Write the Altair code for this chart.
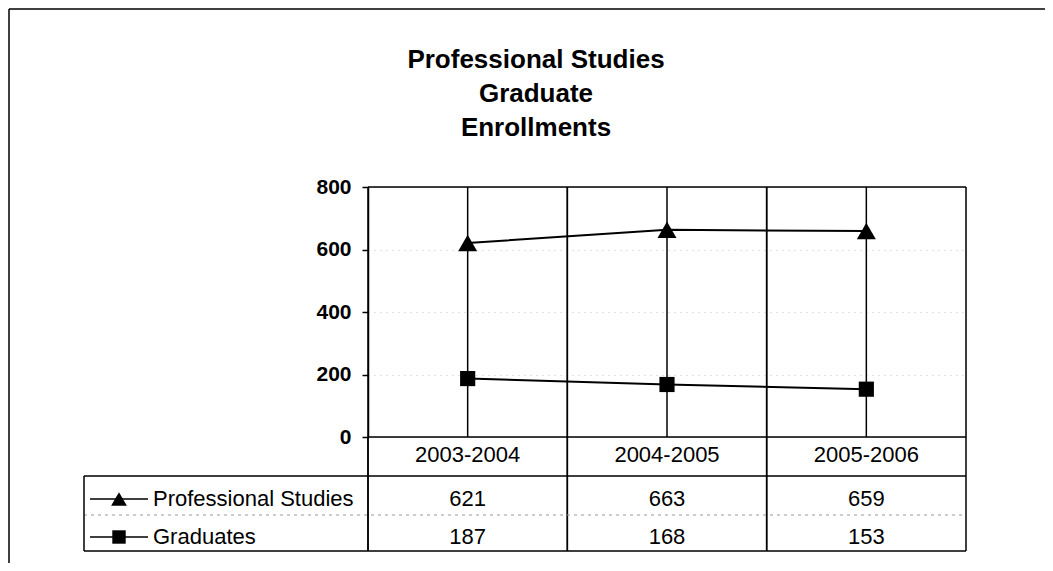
import altair as alt
import pandas as pd

# ---- data ----
categories = ["2003-2004", "2004-2005", "2005-2006"]
series_names = ["Professional Studies", "Graduates"]
professional_studies = [621, 663, 659]
graduates = [187, 168, 153]
title_lines = ["Professional Studies", "Graduate", "Enrollments"]
y_ticks = [0, 200, 400, 600, 800]

rows = []
for name, vals in zip(series_names, [professional_studies, graduates]):
    for c, v in zip(categories, vals):
        rows.append({"year": c, "series": name, "value": v})
df = pd.DataFrame(rows)
cat_df = pd.DataFrame({"year": categories})
title_df = pd.DataFrame({"t": ["\n".join(title_lines)]})
one = pd.DataFrame({"k": [0]})

# ---- layout (pixels relative to plot origin) ----
W, H = 598, 250
FONT = "Liberation Sans"
FS = 22
TABLE_LEFT, TABLE_TOP, ROW_SEP, TABLE_BOTTOM = -284, 289, 328, 364
HEADER_Y = 268
ROW_Y = {"Professional Studies": 312, "Graduates": 350}
MARK_SIZE = {"Professional Studies": 360, "Graduates": 230}
KEY_SIZE = {"Professional Studies": 250, "Graduates": 180}
SHAPE = {"Professional Studies": "triangle-up", "Graduates": "square"}

x_scale = alt.Scale(domain=categories, paddingInner=0, paddingOuter=0)
x_enc = alt.X("year:N", sort=categories, scale=x_scale, axis=None)
y_enc = alt.Y(
    "value:Q",
    scale=alt.Scale(domain=[0, 800], nice=False),
    axis=alt.Axis(
        values=y_ticks, title=None, grid=True, gridColor="#c4c4c4",
        gridDash=[1, 5], gridWidth=1, domainColor="black", domainWidth=1.5,
        tickColor="black", tickSize=6, tickWidth=1.5, labelFont=FONT,
        labelFontSize=21, labelFontWeight="bold", labelColor="black",
        labelPadding=11,
    ),
)

layers = []

# vertical lines through each category centre
layers.append(
    alt.Chart(cat_df).mark_rule(color="black", strokeWidth=1.5).encode(
        x=alt.X("year:N", sort=categories, scale=x_scale, axis=None),
        y=alt.value(0), y2=alt.value(H),
    )
)
# category boundary lines through plot + table
for bp in (0, 1):
    layers.append(
        alt.Chart(cat_df).mark_rule(color="black", strokeWidth=1.5).encode(
            x=alt.X("year:N", sort=categories, scale=x_scale, axis=None, bandPosition=bp),
            y=alt.value(0), y2=alt.value(TABLE_BOTTOM),
        )
    )

# plot top and bottom borders
for yy in (0, H):
    layers.append(
        alt.Chart(one).mark_rule(color="black", strokeWidth=1.5).encode(
            x=alt.value(0), x2=alt.value(W), y=alt.value(yy)
        )
    )

# table horizontal lines
for yy, col, dash, sw in [
    (TABLE_TOP, "black", [1, 0], 1.5),
    (ROW_SEP, "#9a9a9a", [3, 4], 1),
    (TABLE_BOTTOM, "black", [1, 0], 1.5),
]:
    layers.append(
        alt.Chart(one).mark_rule(color=col, strokeWidth=sw, strokeDash=dash).encode(
            x=alt.value(TABLE_LEFT), x2=alt.value(W), y=alt.value(yy)
        )
    )
layers.append(
    alt.Chart(one).mark_rule(color="black", strokeWidth=1.5).encode(
        x=alt.value(TABLE_LEFT), y=alt.value(TABLE_TOP), y2=alt.value(TABLE_BOTTOM)
    )
)
layers.append(
    alt.Chart(one).mark_rule(color="black", strokeWidth=1.5).encode(
        x=alt.value(0), y=alt.value(H), y2=alt.value(TABLE_BOTTOM)
    )
)

# outer frame (top and left)
layers.append(
    alt.Chart(one).mark_rule(color="black", strokeWidth=1.5).encode(
        x=alt.value(-359), x2=alt.value(700), y=alt.value(-178)
    )
)
layers.append(
    alt.Chart(one).mark_rule(color="black", strokeWidth=1.5).encode(
        x=alt.value(-359), y=alt.value(-178), y2=alt.value(400)
    )
)

# series lines and markers
layers.append(
    alt.Chart(df).mark_line(color="black", strokeWidth=2).encode(
        x=x_enc, y=y_enc, detail="series:N"
    )
)
for name in series_names:
    layers.append(
        alt.Chart(df).transform_filter(alt.datum.series == name).mark_point(
            filled=True, color="black", opacity=1, size=MARK_SIZE[name], shape=SHAPE[name]
        ).encode(x=x_enc, y=y_enc)
    )

# header labels
layers.append(
    alt.Chart(cat_df).mark_text(font=FONT, fontSize=FS, color="black", baseline="middle", align="center").encode(
        x=alt.X("year:N", sort=categories, scale=x_scale, axis=None),
        y=alt.value(HEADER_Y), text="year:N",
    )
)

# value rows + legend keys
for name in series_names:
    ry = ROW_Y[name]
    layers.append(
        alt.Chart(df).transform_filter(alt.datum.series == name).mark_text(
            font=FONT, fontSize=FS, color="black", baseline="middle", align="center"
        ).encode(x=x_enc, y=alt.value(ry), text="value:Q")
    )
    sub = pd.DataFrame({"series": [name]})
    layers.append(
        alt.Chart(sub).mark_text(font=FONT, fontSize=FS, color="black", baseline="middle", align="left").encode(
            x=alt.value(-215), y=alt.value(ry), text="series:N"
        )
    )
    layers.append(
        alt.Chart(sub).mark_rule(color="black", strokeWidth=1.5).encode(
            x=alt.value(-278), x2=alt.value(-220), y=alt.value(ry)
        )
    )
    layers.append(
        alt.Chart(sub).mark_point(filled=True, color="black", opacity=1, size=KEY_SIZE[name], shape=SHAPE[name]).encode(
            x=alt.value(-249), y=alt.value(ry)
        )
    )

# title
layers.append(
    alt.Chart(title_df).mark_text(
        font=FONT, fontSize=26, fontWeight="bold", color="black",
        align="center", baseline="alphabetic", lineBreak="\n", lineHeight=34,
    ).encode(x=alt.value(168), y=alt.value(-119), text="t:N")
)

chart = alt.layer(*layers).properties(
    width=W, height=H,
    autosize=alt.AutoSizeParams(type="none"),
    padding={"left": 360, "top": 179, "right": 79, "bottom": 126},
).configure_view(stroke="black", strokeWidth=1.5).configure(background="white")

chart.save("out.html", embed_options={"renderer": "svg", "actions": False})
